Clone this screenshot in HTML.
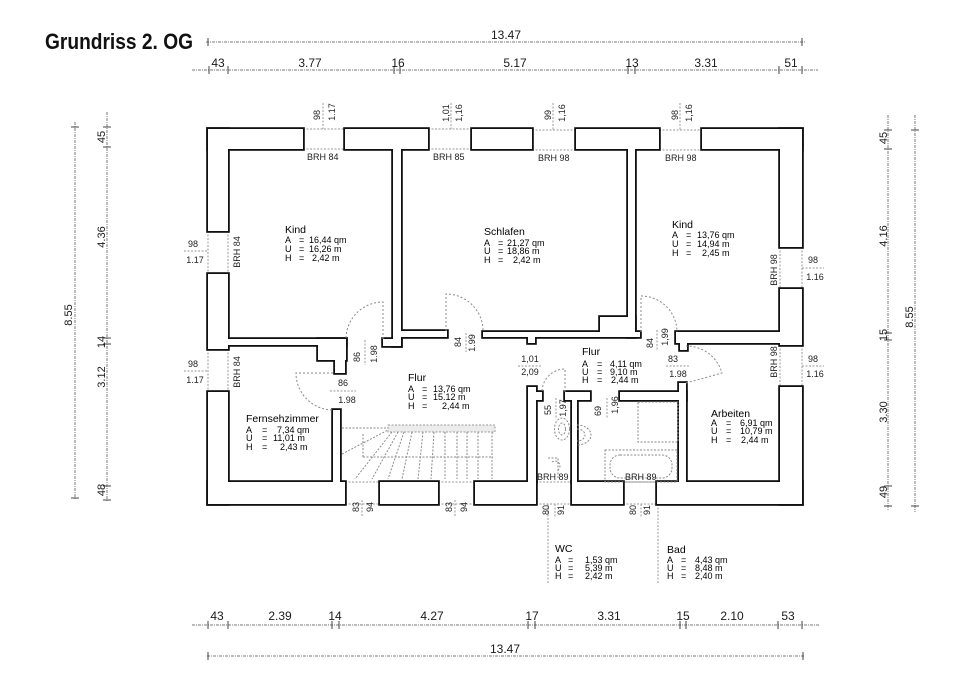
<!DOCTYPE html>
<html>
<head>
<meta charset="utf-8">
<style>
html,body{margin:0;padding:0;background:#fff;}
svg{display:block;}
.d{font-family:"Liberation Sans",Arial,sans-serif;font-size:12px;fill:#1a1a1a;text-anchor:middle;}
.s{font-family:"Liberation Sans",Arial,sans-serif;font-size:11px;fill:#1a1a1a;text-anchor:middle;}
.m{font-family:"Liberation Sans",Arial,sans-serif;font-size:9px;fill:#222;}
.mc{font-family:"Liberation Sans",Arial,sans-serif;font-size:9px;fill:#222;text-anchor:middle;}
.t{font-family:"Liberation Sans",Arial,sans-serif;font-size:10.5px;fill:#000;}
.r{font-family:"Liberation Sans",Arial,sans-serif;font-size:9px;fill:#000;}
.dim{stroke:#7a7a7a;stroke-width:1;stroke-dasharray:3 1 1 1;fill:none;}
.tk{stroke:#444;stroke-width:1;}
.win{stroke:#9a9a9a;stroke-width:1;stroke-dasharray:2 1.5;fill:none;}
.arc{stroke:#8a8a8a;stroke-width:1;stroke-dasharray:2 2;fill:none;}
.fx{stroke:#8a8a8a;stroke-width:1;stroke-dasharray:2 1.5;fill:none;}
</style>
</head>
<body>
<svg width="960" height="679" viewBox="0 0 960 679" xmlns="http://www.w3.org/2000/svg">
<rect width="960" height="679" fill="#fff"/>
<defs>
<g id="w">
<rect x="208" y="129" width="95" height="20"/>
<rect x="345" y="129" width="83" height="20"/>
<rect x="472" y="129" width="60" height="20"/>
<rect x="576" y="129" width="83" height="20"/>
<rect x="702" y="129" width="100" height="20"/>
<rect x="208" y="129" width="20" height="102"/>
<rect x="208" y="274" width="20" height="75"/>
<rect x="208" y="392" width="20" height="112"/>
<rect x="780" y="129" width="22" height="118"/>
<rect x="780" y="289" width="22" height="56"/>
<rect x="780" y="387" width="22" height="117"/>
<rect x="208" y="482" width="137" height="22"/>
<rect x="380" y="482" width="58" height="22"/>
<rect x="475" y="482" width="61" height="22"/>
<rect x="572" y="482" width="51" height="22"/>
<rect x="657" y="482" width="145" height="22"/>
<rect x="393" y="149" width="8" height="197"/>
<rect x="383" y="339" width="18" height="7"/>
<rect x="228" y="339" width="118" height="6"/>
<rect x="318" y="339" width="28" height="21"/>
<rect x="335" y="360" width="10" height="13"/>
<rect x="333" y="410" width="7" height="72"/>
<rect x="401" y="331" width="46" height="6"/>
<rect x="483" y="332" width="157" height="5"/>
<rect x="600" y="317" width="35" height="15"/>
<rect x="528" y="337" width="7" height="6"/>
<rect x="628" y="149" width="7" height="188"/>
<rect x="676" y="332" width="104" height="11"/>
<rect x="680" y="343" width="7" height="7"/>
<rect x="528" y="387" width="8" height="95"/>
<rect x="536" y="392" width="6" height="8"/>
<rect x="565" y="392" width="25" height="8"/>
<rect x="572" y="400" width="5" height="82"/>
<rect x="620" y="392" width="66" height="8"/>
<rect x="679" y="383" width="7" height="100"/>
</g>
</defs>

<!-- Title -->
<text x="45" y="49" font-family="Liberation Sans, Arial, sans-serif" font-weight="bold" font-size="22" textLength="148" lengthAdjust="spacingAndGlyphs" fill="#111">Grundriss 2. OG</text>

<!-- Top dimension lines -->
<line class="dim" x1="206" y1="42" x2="806" y2="42"/>
<line class="tk" x1="208" y1="38" x2="208" y2="46"/>
<line class="tk" x1="802" y1="38" x2="802" y2="46"/>
<text class="d" x="506" y="39">13.47</text>

<line class="dim" x1="192" y1="70" x2="818" y2="70"/>
<g class="tk">
<line x1="209" y1="66" x2="209" y2="74"/><line x1="228" y1="66" x2="228" y2="74"/>
<line x1="394" y1="66" x2="394" y2="74"/><line x1="400" y1="66" x2="400" y2="74"/>
<line x1="628" y1="66" x2="628" y2="74"/><line x1="635" y1="66" x2="635" y2="74"/>
<line x1="779" y1="66" x2="779" y2="74"/><line x1="802" y1="66" x2="802" y2="74"/>
</g>
<text class="d" x="218" y="67">43</text>
<text class="d" x="310" y="67">3.77</text>
<text class="d" x="398" y="67">16</text>
<text class="d" x="515" y="67">5.17</text>
<text class="d" x="632" y="67">13</text>
<text class="d" x="706" y="67">3.31</text>
<text class="d" x="791" y="67">51</text>

<!-- Bottom dimension lines -->
<line class="dim" x1="192" y1="625" x2="820" y2="625"/>
<g class="tk">
<line x1="208" y1="621" x2="208" y2="629"/><line x1="228" y1="621" x2="228" y2="629"/>
<line x1="332" y1="621" x2="332" y2="629"/><line x1="339" y1="621" x2="339" y2="629"/>
<line x1="528" y1="621" x2="528" y2="629"/><line x1="535" y1="621" x2="535" y2="629"/>
<line x1="680" y1="621" x2="680" y2="629"/><line x1="686" y1="621" x2="686" y2="629"/>
<line x1="778" y1="621" x2="778" y2="629"/><line x1="802" y1="621" x2="802" y2="629"/>
</g>
<text class="d" x="217" y="620">43</text>
<text class="d" x="280" y="620">2.39</text>
<text class="d" x="335" y="620">14</text>
<text class="d" x="432" y="620">4.27</text>
<text class="d" x="532" y="620">17</text>
<text class="d" x="609" y="620">3.31</text>
<text class="d" x="683" y="620">15</text>
<text class="d" x="732" y="620">2.10</text>
<text class="d" x="788" y="620">53</text>
<line class="dim" x1="207" y1="656" x2="804" y2="656"/>
<line class="tk" x1="208" y1="652" x2="208" y2="660"/>
<line class="tk" x1="803" y1="652" x2="803" y2="660"/>
<text class="d" x="505" y="653">13.47</text>

<!-- Left dimension lines -->
<line class="dim" x1="75" y1="122" x2="75" y2="500"/>
<line class="tk" x1="71" y1="127" x2="79" y2="127"/>
<line class="tk" x1="71" y1="498" x2="79" y2="498"/>
<text class="s" transform="translate(72,315) rotate(-90)">8.55</text>
<line class="dim" x1="107" y1="112" x2="107" y2="502"/>
<g class="tk">
<line x1="103" y1="127" x2="111" y2="127"/><line x1="103" y1="147" x2="111" y2="147"/>
<line x1="103" y1="338" x2="111" y2="338"/><line x1="103" y1="344" x2="111" y2="344"/>
<line x1="103" y1="486" x2="111" y2="486"/><line x1="103" y1="500" x2="111" y2="500"/>
</g>
<text class="s" transform="translate(105,137) rotate(-90)">45</text>
<text class="s" transform="translate(105,237) rotate(-90)">4.36</text>
<text class="s" transform="translate(105,342) rotate(-90)">14</text>
<text class="s" transform="translate(105,377) rotate(-90)">3.12</text>
<text class="s" transform="translate(105,490) rotate(-90)">48</text>

<!-- Right dimension lines -->
<line class="dim" x1="888" y1="115" x2="888" y2="510"/>
<g class="tk">
<line x1="884" y1="130" x2="892" y2="130"/><line x1="884" y1="149" x2="892" y2="149"/>
<line x1="884" y1="333" x2="892" y2="333"/><line x1="884" y1="340" x2="892" y2="340"/>
<line x1="884" y1="486" x2="892" y2="486"/><line x1="884" y1="506" x2="892" y2="506"/>
</g>
<text class="s" transform="translate(887,138) rotate(-90)">45</text>
<text class="s" transform="translate(887,236) rotate(-90)">4.16</text>
<text class="s" transform="translate(887,335) rotate(-90)">15</text>
<text class="s" transform="translate(887,412) rotate(-90)">3.30</text>
<text class="s" transform="translate(887,492) rotate(-90)">49</text>
<line class="dim" x1="915" y1="115" x2="915" y2="512"/>
<line class="tk" x1="911" y1="130" x2="919" y2="130"/>
<line class="tk" x1="911" y1="506" x2="919" y2="506"/>
<text class="s" transform="translate(913,317) rotate(-90)">8.55</text>

<!-- Window glass lines -->
<g class="win">
<line x1="303" y1="129" x2="345" y2="129"/><line x1="303" y1="149" x2="345" y2="149"/>
<line x1="428" y1="129" x2="472" y2="129"/><line x1="428" y1="149" x2="472" y2="149"/>
<line x1="532" y1="130" x2="576" y2="130"/><line x1="532" y1="150" x2="576" y2="150"/>
<line x1="659" y1="130" x2="702" y2="130"/><line x1="659" y1="150" x2="702" y2="150"/>
<line x1="208" y1="231" x2="208" y2="274"/><line x1="228" y1="231" x2="228" y2="274"/>
<line x1="208" y1="349" x2="208" y2="392"/><line x1="228" y1="349" x2="228" y2="392"/>
<line x1="780" y1="247" x2="780" y2="289"/><line x1="802" y1="247" x2="802" y2="289"/>
<line x1="780" y1="345" x2="780" y2="387"/><line x1="802" y1="345" x2="802" y2="387"/>
<line x1="345" y1="482" x2="380" y2="482"/><line x1="345" y1="504" x2="380" y2="504"/>
<line x1="438" y1="482" x2="475" y2="482"/><line x1="438" y1="504" x2="475" y2="504"/>
<line x1="536" y1="482" x2="572" y2="482"/><line x1="536" y1="504" x2="572" y2="504"/>
<line x1="623" y1="482" x2="657" y2="482"/><line x1="623" y1="504" x2="657" y2="504"/>
<line x1="323" y1="103" x2="323" y2="129"/>
<line x1="451" y1="103" x2="451" y2="129"/>
<line x1="553" y1="103" x2="553" y2="130"/>
<line x1="680" y1="103" x2="680" y2="130"/>
<line x1="184" y1="251" x2="208" y2="251"/>
<line x1="184" y1="371" x2="208" y2="371"/>
<line x1="802" y1="268" x2="824" y2="268"/>
<line x1="802" y1="366" x2="824" y2="366"/>
<line x1="362" y1="500" x2="362" y2="516"/>
<line x1="455" y1="500" x2="455" y2="516"/>
<line x1="555" y1="504" x2="555" y2="518"/>
<line x1="641" y1="504" x2="641" y2="518"/>
<line x1="548" y1="504" x2="548" y2="584"/>
<line x1="658" y1="504" x2="658" y2="584"/>
<line x1="365" y1="340" x2="365" y2="365"/>
<line x1="466" y1="333" x2="466" y2="352"/>
<line x1="657" y1="330" x2="657" y2="350"/>
<line x1="556" y1="398" x2="556" y2="418"/>
<line x1="607" y1="398" x2="607" y2="418"/>
<line x1="330" y1="391" x2="356" y2="391"/>
<line x1="518" y1="366" x2="541" y2="366"/>
<line x1="666" y1="366" x2="690" y2="366"/>
</g>

<!-- Walls (union outline) -->
<use href="#w" fill="#fff" stroke="#111" stroke-width="3.6"/>
<use href="#w" fill="#fff" stroke="none"/>

<!-- Door arcs -->
<path class="arc" d="M383,339 L383,302 A37,37 0 0,0 346,339"/>
<path class="arc" d="M333,373 L296,373 A37,37 0 0,0 333,410"/>
<path class="arc" d="M446,331 L446,294 A37,37 0 0,1 483,331"/>
<path class="arc" d="M641,332 L641,296 A36,36 0 0,1 677,332"/>
<path class="arc" d="M686,383 L722,373 A37,37 0 0,0 686,346"/>
<path class="arc" d="M565,392 L565,369 A23,23 0 0,0 542,392"/>

<!-- Stair -->
<rect x="388" y="425" width="107" height="7" fill="#ececec" stroke="#999" stroke-width="1" stroke-dasharray="2 1.5"/>
<g class="fx">
<line x1="342" y1="428" x2="388" y2="428"/>
<line x1="363" y1="457" x2="493" y2="457"/>
<line x1="363" y1="434" x2="363" y2="457"/>
<line x1="342" y1="454" x2="388" y2="430"/>
<line x1="392" y1="432" x2="355" y2="479"/>
<line x1="398" y1="432" x2="372" y2="479"/>
<line x1="404" y1="432" x2="388" y2="479"/>
<line x1="412" y1="432" x2="402" y2="479"/>
<line x1="423" y1="432" x2="418" y2="479"/>
<line x1="434" y1="432" x2="431" y2="479"/>
<line x1="445" y1="432" x2="445" y2="479"/>
<line x1="457" y1="432" x2="457" y2="479"/>
<line x1="467" y1="432" x2="467" y2="479"/>
<line x1="478" y1="432" x2="478" y2="479"/>
<line x1="492" y1="432" x2="492" y2="479"/>
</g>

<!-- Fixtures -->
<g class="fx">
<ellipse cx="562" cy="429" rx="7.5" ry="11"/>
<ellipse cx="562" cy="429" rx="3.5" ry="6"/>
<path d="M577,425 A14,10 0 0,1 577,445"/>
<path d="M577,429 A8,6 0 0,1 577,441"/>
<rect x="638" y="402" width="40" height="40"/>
<rect x="605" y="450" width="72" height="32"/>
<rect x="610" y="455" width="62" height="23" rx="10"/>
<path d="M548,458 L558,458 L558,478 M552,462 A5,5 0 0,1 558,470"/>
</g>

<!-- Window labels top -->
<text class="mc" transform="translate(320,115) rotate(-90)">98</text>
<text class="mc" transform="translate(335,112) rotate(-90)">1.17</text>
<text class="mc" transform="translate(449,113) rotate(-90)">1,01</text>
<text class="mc" transform="translate(462,113) rotate(-90)">1,16</text>
<text class="mc" transform="translate(551,115) rotate(-90)">99</text>
<text class="mc" transform="translate(565,113) rotate(-90)">1,16</text>
<text class="mc" transform="translate(678,115) rotate(-90)">98</text>
<text class="mc" transform="translate(692,113) rotate(-90)">1,16</text>

<text class="m" x="307" y="160">BRH 84</text>
<text class="m" x="433" y="160">BRH 85</text>
<text class="m" x="538" y="161">BRH 98</text>
<text class="m" x="665" y="161">BRH 98</text>

<!-- Side window labels -->
<text class="mc" x="193" y="247">98</text>
<text class="mc" x="195" y="263">1.17</text>
<text class="mc" x="193" y="367">98</text>
<text class="mc" x="195" y="383">1.17</text>
<text class="mc" transform="translate(240,252) rotate(-90)">BRH 84</text>
<text class="mc" transform="translate(240,372) rotate(-90)">BRH 84</text>
<text class="mc" x="813" y="263">98</text>
<text class="mc" x="815" y="280">1.16</text>
<text class="mc" x="813" y="362">98</text>
<text class="mc" x="815" y="377">1.16</text>
<text class="mc" transform="translate(777,270) rotate(-90)">BRH 98</text>
<text class="mc" transform="translate(777,362) rotate(-90)">BRH 98</text>

<!-- Door labels -->
<text class="mc" transform="translate(360,357) rotate(-90)">86</text>
<text class="mc" transform="translate(377,354) rotate(-90)">1.98</text>
<text class="mc" x="343" y="386">86</text>
<text class="mc" x="347" y="403">1.98</text>
<text class="mc" transform="translate(461,342) rotate(-90)">84</text>
<text class="mc" transform="translate(475,343) rotate(-90)">1.99</text>
<text class="mc" x="530" y="362">1,01</text>
<text class="mc" x="530" y="375">2,09</text>
<text class="mc" transform="translate(653,343) rotate(-90)">84</text>
<text class="mc" transform="translate(668,337) rotate(-90)">1,99</text>
<text class="mc" x="673" y="362">83</text>
<text class="mc" x="678" y="377">1.98</text>
<text class="mc" transform="translate(551,410) rotate(-90)">55</text>
<text class="mc" transform="translate(566,408) rotate(-90)">1,97</text>
<text class="mc" transform="translate(601,411) rotate(-90)">69</text>
<text class="mc" transform="translate(618,405) rotate(-90)">1,96</text>
<text class="m" x="537" y="480">BRH 89</text>
<text class="m" x="625" y="480">BRH 89</text>

<!-- Bottom window labels -->
<text class="mc" transform="translate(359,507) rotate(-90)">83</text>
<text class="mc" transform="translate(373,507) rotate(-90)">94</text>
<text class="mc" transform="translate(452,507) rotate(-90)">83</text>
<text class="mc" transform="translate(467,507) rotate(-90)">94</text>
<text class="mc" transform="translate(549,510) rotate(-90)">80</text>
<text class="mc" transform="translate(564,510) rotate(-90)">91</text>
<text class="mc" transform="translate(636,510) rotate(-90)">80</text>
<text class="mc" transform="translate(650,510) rotate(-90)">91</text>

<!-- Room labels -->
<text class="t" x="285" y="233">Kind</text>
<text class="r" y="243"><tspan x="285">A</tspan><tspan x="299">=</tspan><tspan x="309">16,44 qm</tspan></text>
<text class="r" y="252"><tspan x="285">U</tspan><tspan x="299">=</tspan><tspan x="309">16,26 m</tspan></text>
<text class="r" y="261"><tspan x="285">H</tspan><tspan x="299">=</tspan><tspan x="312">2,42 m</tspan></text>

<text class="t" x="484" y="235">Schlafen</text>
<text class="r" y="246"><tspan x="484">A</tspan><tspan x="498">=</tspan><tspan x="507">21,27 qm</tspan></text>
<text class="r" y="254"><tspan x="484">U</tspan><tspan x="498">=</tspan><tspan x="507">18,86 m</tspan></text>
<text class="r" y="263"><tspan x="484">H</tspan><tspan x="498">=</tspan><tspan x="513">2,42 m</tspan></text>

<text class="t" x="672" y="228">Kind</text>
<text class="r" y="238"><tspan x="672">A</tspan><tspan x="686">=</tspan><tspan x="697">13,76 qm</tspan></text>
<text class="r" y="247"><tspan x="672">U</tspan><tspan x="686">=</tspan><tspan x="697">14,94 m</tspan></text>
<text class="r" y="256"><tspan x="672">H</tspan><tspan x="686">=</tspan><tspan x="702">2,45 m</tspan></text>

<text class="t" x="408" y="381">Flur</text>
<text class="r" y="392"><tspan x="408">A</tspan><tspan x="422">=</tspan><tspan x="433">13,76 qm</tspan></text>
<text class="r" y="400"><tspan x="408">U</tspan><tspan x="422">=</tspan><tspan x="433">15.12 m</tspan></text>
<text class="r" y="409"><tspan x="408">H</tspan><tspan x="422">=</tspan><tspan x="442">2,44 m</tspan></text>

<text class="t" x="246" y="422">Fernsehzimmer</text>
<text class="r" y="433"><tspan x="246">A</tspan><tspan x="262">=</tspan><tspan x="277">7,34 qm</tspan></text>
<text class="r" y="441"><tspan x="246">U</tspan><tspan x="262">=</tspan><tspan x="273">11,01 m</tspan></text>
<text class="r" y="450"><tspan x="246">H</tspan><tspan x="262">=</tspan><tspan x="280">2,43 m</tspan></text>

<text class="t" x="582" y="355">Flur</text>
<text class="r" y="367"><tspan x="582">A</tspan><tspan x="597">=</tspan><tspan x="610">4,11 qm</tspan></text>
<text class="r" y="375"><tspan x="582">U</tspan><tspan x="597">=</tspan><tspan x="610">9,10 m</tspan></text>
<text class="r" y="383"><tspan x="582">H</tspan><tspan x="597">=</tspan><tspan x="611">2,44 m</tspan></text>

<text class="t" x="711" y="417">Arbeiten</text>
<text class="r" y="426"><tspan x="711">A</tspan><tspan x="726">=</tspan><tspan x="740">6,91 qm</tspan></text>
<text class="r" y="434"><tspan x="711">U</tspan><tspan x="726">=</tspan><tspan x="740">10,79 m</tspan></text>
<text class="r" y="443"><tspan x="711">H</tspan><tspan x="726">=</tspan><tspan x="741">2,44 m</tspan></text>

<text class="t" x="555" y="552">WC</text>
<text class="r" y="563"><tspan x="555">A</tspan><tspan x="568">=</tspan><tspan x="585">1,53 qm</tspan></text>
<text class="r" y="571"><tspan x="555">U</tspan><tspan x="568">=</tspan><tspan x="585">5,39 m</tspan></text>
<text class="r" y="579"><tspan x="555">H</tspan><tspan x="568">=</tspan><tspan x="585">2,42 m</tspan></text>

<text class="t" x="667" y="553">Bad</text>
<text class="r" y="563"><tspan x="667">A</tspan><tspan x="681">=</tspan><tspan x="695">4,43 qm</tspan></text>
<text class="r" y="571"><tspan x="667">U</tspan><tspan x="681">=</tspan><tspan x="695">8,48 m</tspan></text>
<text class="r" y="579"><tspan x="667">H</tspan><tspan x="681">=</tspan><tspan x="695">2,40 m</tspan></text>
</svg>
</body>
</html>
